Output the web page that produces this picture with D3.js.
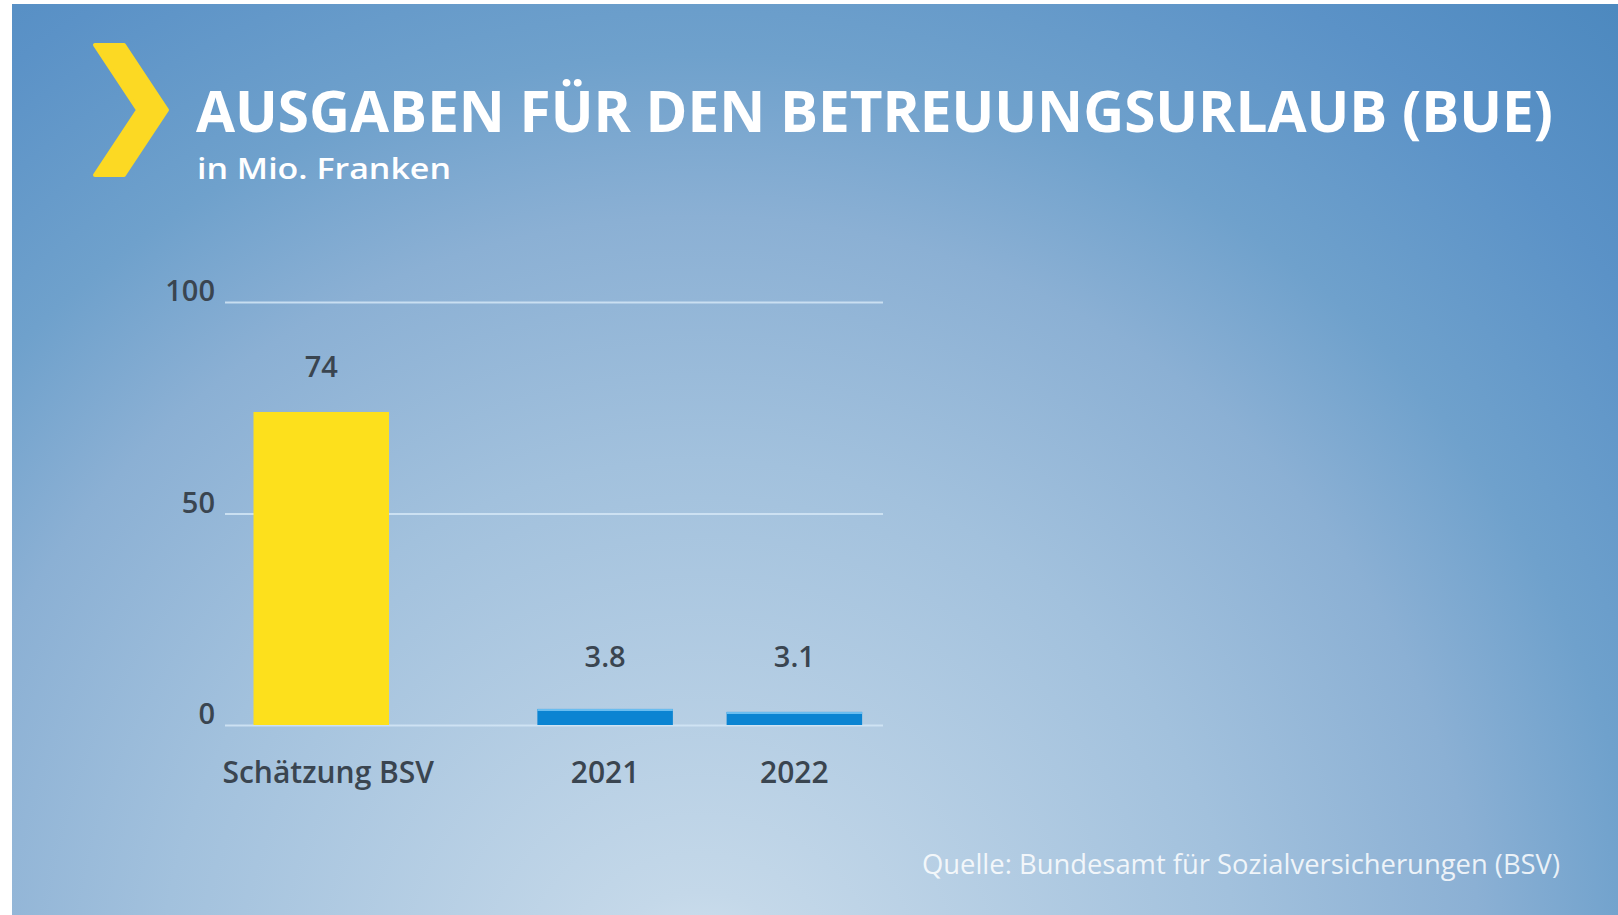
<!DOCTYPE html>
<html>
<head>
<meta charset="utf-8">
<script src="https://cdn.jsdelivr.net/npm/d3@7"></script>
<style>
  html, body { margin: 0; padding: 0; background: #fff; }
  svg { display: block; font-family: "Open Sans", "Noto Sans", sans-serif; }
</style>
</head>
<body>
<svg id="chart"></svg>
<script>
// data
const categories = ["Schätzung BSV", "2021", "2022"];
const values = [74, 3.8, 3.1];
const categoryGroup = ["Schätzung", "Effektiv", "Effektiv"];
const groups = ["Schätzung", "Effektiv"];
const yTicks = [0, 50, 100];

const title = "AUSGABEN FÜR DEN BETREUUNGSURLAUB (BUE)";
const subtitle = "in Mio. Franken";
const source = "Quelle: Bundesamt für Sozialversicherungen (BSV)";

const W = 1618, H = 915;
const groupColor = d3.scaleOrdinal().domain(groups).range(["#fde01c", "#0b84d2"]);
const textDark = "#3a4550";

const svg = d3.select("#chart").attr("width", W).attr("height", H);

// background
const defs = svg.append("defs");
const bg = defs.append("radialGradient")
    .attr("id", "bg")
    .attr("gradientUnits", "userSpaceOnUse")
    .attr("cx", 700).attr("cy", 1000).attr("r", 1350);
[[0, "#d4e4f0"], [0.08, "#c4d8e9"], [0.4, "#a2c1dd"], [0.58, "#8bb0d4"],
 [0.7, "#6fa1cc"], [0.86, "#5b92c7"], [1, "#4d89bf"]]
    .forEach(s => bg.append("stop").attr("offset", s[0]).attr("stop-color", s[1]));

svg.append("rect").attr("x", 12).attr("y", 4)
    .attr("width", W - 12).attr("height", H - 4)
    .attr("fill", "url(#bg)");

// chevron
const chevronPoints = [[95, 45], [124, 45], [167, 110], [124, 175], [95, 175], [138, 110]];
svg.append("path")
    .attr("d", d3.line()(chevronPoints) + "Z")
    .attr("fill", "#fcd923")
    .attr("stroke", "#fcd923")
    .attr("stroke-width", 4)
    .attr("stroke-linejoin", "round");

// titles
svg.append("text")
    .attr("x", 196).attr("y", 132)
    .attr("textLength", 1357).attr("lengthAdjust", "spacingAndGlyphs")
    .attr("fill", "#fff").attr("font-size", 58).attr("font-weight", 700)
    .text(title);

svg.append("text")
    .attr("x", 197).attr("y", 179)
    .attr("textLength", 254).attr("lengthAdjust", "spacingAndGlyphs")
    .attr("fill", "#fff").attr("font-size", 28).attr("font-weight", 600)
    .text(subtitle);

// scales
const plotLeft = 225, plotRight = 883;
const y = d3.scaleLinear().domain([0, 100]).range([725, 302]);

const x0 = d3.scaleBand().domain(groups).range([132, 889]);
const inner = {};
groups.forEach(g => {
    inner[g] = d3.scaleBand()
        .domain(categories.filter((c, i) => categoryGroup[i] === g))
        .range([0, x0.bandwidth()])
        .paddingInner(0.284)
        .paddingOuter(0.142);
});
const barW = d3.min(groups, g => inner[g].bandwidth());
const xCenter = i => {
    const g = categoryGroup[i];
    return x0(g) + inner[g](categories[i]) + inner[g].bandwidth() / 2;
};

// y axis with gridlines
const yAxis = svg.append("g")
    .attr("transform", `translate(${plotLeft},0)`)
    .call(d3.axisLeft(y).tickValues(yTicks).tickSize(-(plotRight - plotLeft)).tickPadding(10));
yAxis.select(".domain").remove();
yAxis.selectAll(".tick line")
    .attr("stroke", "#d4e6f6").attr("stroke-opacity", 0.85).attr("stroke-width", 2);
yAxis.selectAll(".tick text")
    .attr("fill", textDark).attr("font-size", 29).attr("font-weight", 600)
    .attr("font-family", "Open Sans")
    .attr("dy", "-0.05em");

// bars
const bars = svg.append("g");
bars.selectAll("rect.bar")
    .data(values)
    .enter().append("rect")
    .attr("class", "bar")
    .attr("x", (d, i) => xCenter(i) - barW / 2)
    .attr("y", d => y(d))
    .attr("width", barW)
    .attr("height", d => y(0) - y(d))
    .attr("fill", (d, i) => groupColor(categoryGroup[i]));

// light top edge on the blue bars
bars.selectAll("line.edge")
    .data(values.filter((d, i) => categoryGroup[i] === "Effektiv"))
    .enter().append("line")
    .attr("class", "edge")
    .attr("x1", (d, i) => xCenter(i + 1) - barW / 2)
    .attr("x2", (d, i) => xCenter(i + 1) + barW / 2)
    .attr("y1", d => y(d) + 1).attr("y2", d => y(d) + 1)
    .attr("stroke", "#69bdf0").attr("stroke-width", 2);

// value labels
svg.append("g").selectAll("text")
    .data(values)
    .enter().append("text")
    .attr("x", (d, i) => xCenter(i))
    .attr("y", d => Math.min(y(d), y(0) - 23) - 35)
    .attr("text-anchor", "middle")
    .attr("fill", textDark).attr("font-size", 29).attr("font-weight", 600)
    .text(d => String(d));

// category labels
svg.append("g").selectAll("text")
    .data(categories)
    .enter().append("text")
    .attr("x", (d, i) => xCenter(i) + (i === 0 ? 7 : 0))
    .attr("y", 783)
    .attr("text-anchor", "middle")
    .attr("fill", textDark).attr("font-size", 30).attr("font-weight", 600)
    .text(d => d);

// source
svg.append("text")
    .attr("x", 1560).attr("y", 874)
    .attr("text-anchor", "end")
    .attr("textLength", 638).attr("lengthAdjust", "spacingAndGlyphs")
    .attr("fill", "#ffffff").attr("fill-opacity", 0.85)
    .attr("font-size", 27)
    .text(source);
</script>
</body>
</html>
